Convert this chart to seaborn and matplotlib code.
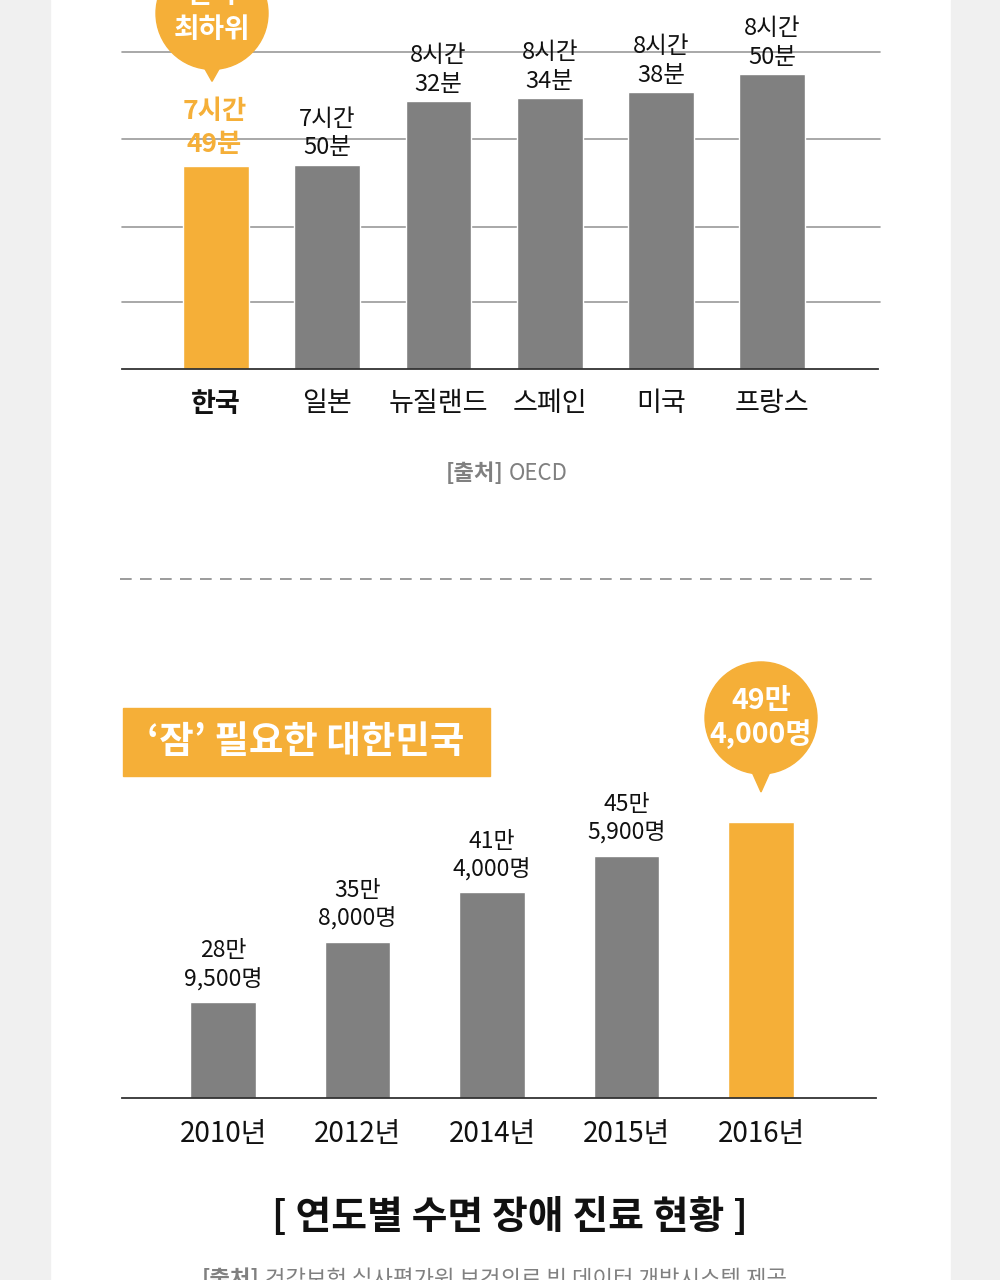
import matplotlib
matplotlib.use("Agg")
import matplotlib.pyplot as plt
import seaborn as sns
import pandas as pd
from matplotlib.patches import Circle, Polygon, Rectangle
from matplotlib.lines import Line2D
from matplotlib.transforms import Affine2D

# ---------------- data ----------------
countries = ["한국", "일본", "뉴질랜드", "스페인", "미국", "프랑스"]
sleep_minutes = [469, 470, 512, 514, 518, 530]
years = ["2010년", "2012년", "2014년", "2015년", "2016년"]
patients = [289500, 358000, 414000, 455900, 494000]

sns.set_theme(style="white")
plt.rcParams['font.family'] = ['Noto Sans CJK KR', 'DejaVu Sans']

ORANGE = "#F5AF38"
GREY = "#808080"
W, H = 1000, 1280

fig = plt.figure(figsize=(10, 12.8), dpi=100)
fig.patch.set_facecolor("white")
T = Affine2D().scale(1 / W, -1 / H).translate(0, 1) + fig.transFigure  # pixel, y down


def fx(px):
    return px / W


def fy(py):
    return 1 - py / H


def to_px(ax, x, y):
    dx, dy = ax.transData.transform((x, y))
    return dx, H - dy


# side panels
fig.patches.append(Rectangle((0, 0), 50, H, transform=T, color="#F0F0F0", zorder=0))
fig.patches.append(Rectangle((951, 0), 49, H, transform=T, color="#F0F0F0", zorder=0))

# ---------------- top chart ----------------
ax1 = fig.add_axes([fx(122), fy(369), (878 - 122) / W, 369 / H])
df1 = pd.DataFrame({"country": countries, "minutes": sleep_minutes})
sns.barplot(data=df1, x="country", y="minutes", hue="country",
            palette=[ORANGE] + [GREY] * 5, legend=False, width=0.59,
            saturation=1, ax=ax1, zorder=2)
ax1.set_xlim(-0.845, 5.95)
ax1.set_ylim(335, 579)
ax1.set_facecolor("none")
for f in [0.859, 0.623, 0.385, 0.182]:
    ax1.plot([0, 1.003], [f, f], transform=ax1.transAxes, color="#9A9A9A",
             lw=1.2, clip_on=False, zorder=0.5)
for s in ["left", "top", "right"]:
    ax1.spines[s].set_visible(False)
ax1.spines["bottom"].set_color("#333333")
ax1.spines["bottom"].set_linewidth(1.3)
ax1.set_yticks([])
ax1.set_xlabel("")
ax1.set_ylabel("")
ax1.tick_params(axis="x", length=0, pad=15, labelsize=19.5, labelcolor="#111111")
ax1.get_xticklabels()[0].set_fontweight("bold")

for i, m in enumerate(sleep_minutes):
    txt = f"{m // 60}시간\n{m % 60}분"
    if i == 0:
        ax1.annotate(txt, (i, m), xytext=(-1, 6), textcoords="offset points",
                     ha="center", va="bottom", fontsize=19, fontweight="bold",
                     color=ORANGE, linespacing=1.3, annotation_clip=False)
    else:
        ax1.annotate(txt, (i, m), xytext=(0, 4), textcoords="offset points",
                     ha="center", va="bottom", fontsize=17, color="#111111",
                     linespacing=1.3, annotation_clip=False)

# bubble above Korea
bx, by = to_px(ax1, 0, sleep_minutes[0])
tip = by - 85
cx, cy = bx - 4, tip - 68
fig.patches.append(Circle((cx, cy), 56, transform=T, color=ORANGE, zorder=3))
fig.patches.append(Polygon([(cx - 13, cy + 45), (cx + 13, cy + 45), (cx, tip)],
                           closed=True, transform=T, color=ORANGE, zorder=3))
fig.text(cx, cy - 1, "한국\n최하위", transform=T, ha="center", va="center",
         fontsize=20, fontweight="bold", color="white", linespacing=1.3, zorder=4)

# source
fig.text(504, 474, "[출처]", transform=T, ha="right", va="center",
         fontsize=16, fontweight="bold", color="#808080")
fig.text(509, 474, "OECD", transform=T, ha="left", va="center",
         fontsize=16, color="#808080")

# dashed separator
fig.add_artist(Line2D([120, 880], [579, 579], transform=T, color="#8A8A8A",
                      lw=1.2, dashes=(7, 5)))

# ---------------- bottom chart ----------------
fig.patches.append(Rectangle((123, 708), 367, 68, transform=T, color=ORANGE, zorder=2))
fig.text(306, 741, "‘잠’ 필요한 대한민국", transform=T, ha="center", va="center",
         fontsize=27, fontweight="bold", color="white", zorder=3)

ax2 = fig.add_axes([fx(122), fy(1098), (876 - 122) / W, 458 / H])
df2 = pd.DataFrame({"year": years, "patients": patients})
sns.barplot(data=df2, x="year", y="patients", hue="year",
            palette=[GREY] * 4 + [ORANGE], legend=False, width=0.49,
            saturation=1, ax=ax2, zorder=2)
ax2.set_xlim(-0.751, 4.855)
ax2.set_ylim(180900, 700400)
ax2.set_facecolor("none")
for s in ["left", "top", "right"]:
    ax2.spines[s].set_visible(False)
ax2.spines["bottom"].set_color("#333333")
ax2.spines["bottom"].set_linewidth(1.3)
ax2.set_yticks([])
ax2.set_xlabel("")
ax2.set_ylabel("")
ax2.tick_params(axis="x", length=0, pad=15, labelsize=20, labelcolor="#111111")

for i, v in enumerate(patients[:-1]):
    txt = f"{v // 10000}만\n{v % 10000:,}명"
    ax2.annotate(txt, (i, v), xytext=(0, 8), textcoords="offset points",
                 ha="center", va="bottom", fontsize=16.5, color="#111111",
                 linespacing=1.3, annotation_clip=False)

# bubble above 2016
n = len(patients) - 1
bx, by = to_px(ax2, n, patients[n])
tip = by - 30
cx, cy = bx, tip - 74
fig.patches.append(Circle((cx, cy), 56, transform=T, color=ORANGE, zorder=3))
fig.patches.append(Polygon([(cx - 13, cy + 45), (cx + 13, cy + 45), (cx, tip)],
                           closed=True, transform=T, color=ORANGE, zorder=3))
v = patients[n]
fig.text(cx, cy, f"{v // 10000}만\n{v % 10000:,}명", transform=T, ha="center",
         va="center", fontsize=20.5, fontweight="bold", color="white",
         linespacing=1.2, zorder=4)

# title & source
fig.text(510, 1217, "[ 연도별 수면 장애 진료 현황 ]", transform=T, ha="center",
         va="center", fontsize=28, fontweight="bold", color="#111111")
fig.text(259, 1279, "[출처]", transform=T, ha="right", va="center",
         fontsize=16, fontweight="bold", color="#808080")
fig.text(265, 1279, "건강보험 심사평가원 보건의료 빅 데이터 개방시스템 제공", transform=T,
         ha="left", va="center", fontsize=16, color="#808080")

fig.savefig("out.png", dpi=100, facecolor="white")
